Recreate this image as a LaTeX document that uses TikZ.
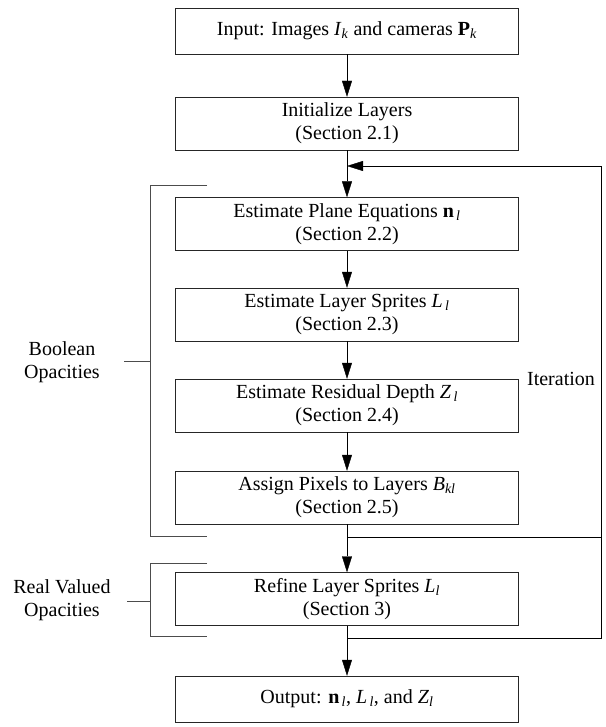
\documentclass[tikz,border=0pt]{standalone}
\usepackage{fontspec}
\setmainfont{Liberation Serif}
\usetikzlibrary{arrows.meta}
\newcommand{\vsub}[2]{#1\textsubscript{\textit{#2}}}
\tikzset{stage/.style={draw=black!85,minimum width=343pt,minimum height=53pt,align=center,inner sep=2pt,font=\fontsize{20}{23}\selectfont},
  flow/.style={draw,-{Triangle[width=10pt,length=16pt]}},
  brace/.style={draw=black!70,line width=0.9pt},
  side/.style={align=center,font=\fontsize{20}{23}\selectfont}}

\begin{document}
\begin{tikzpicture}[x=1pt,y=-1pt]
    \useasboundingbox (0,0) rectangle (605,727);
	% the stages
	\node[stage,minimum height=46pt] (in) at (347,31) {Input: Images \vsub{\textit{I}}{k} and cameras \vsub{\textbf{P}}{k}};
	\foreach \pos/\name/\txt in {{(347,123.5)/init/Initialize Layers\\(Section 2.1)},
	        {(347,224)/plane/Estimate Plane Equations \vsub{\textbf{n}}{\,l}\\(Section 2.2)},
	        {(347,314.5)/sprites/Estimate Layer Sprites \vsub{\textit{L}}{\,l}\\(Section 2.3)},
	        {(347,405.5)/depth/Estimate Residual Depth \vsub{\textit{Z}}{\,l}\\(Section 2.4)},
	        {(347,497.5)/assign/Assign Pixels to Layers \vsub{\textit{B}}{kl}\\(Section 2.5)},
	        {(347,599)/refine/Refine Layer Sprites \vsub{\textit{L}}{l}\\(Section 3)}}
	    \node[stage] (\name) at \pos {\txt};
	\node[stage,minimum height=46pt] (out) at (347,699) {Output: \vsub{\textbf{n}}{\,l}, \vsub{\textit{L}}{\,l}, and \vsub{\textit{Z}}{l}};
	% straight flow
	\foreach \source/\dest in {in/init, init/plane, plane/sprites, sprites/depth, depth/assign, assign/refine, refine/out}
	    \path[flow] (\source.south) -- (\dest.north);
	% iteration loop
	\coordinate (back) at (601,638);
	\coordinate (top) at (347,166);
	\coordinate (fromassign) at (347,537);
	\coordinate (fromrefine) at (347,638);
	\draw[line width=0.9pt] (fromrefine) -- (back) -- (back |- top);
	\path[flow] (back |- top) -- (top);
	\draw[line width=0.9pt] (fromassign) -- (back |- fromassign);
	\node[side] (iter) at (561,379) {Iteration};
	% brackets for the opacities
	\draw[brace] (207,185) -- (150,185) -- (150,536) -- (207,536);
	\draw[brace] (124,361) -- (150,361);
	\node[side] (bool) at (62,362) {Boolean\\Opacities};
	\draw[brace] (207,563) -- (150,563) -- (150,636) -- (207,636);
	\draw[brace] (127,601) -- (150,601);
	\node[side] (real) at (62,600) {Real Valued\\Opacities};
\end{tikzpicture}
\end{document}
